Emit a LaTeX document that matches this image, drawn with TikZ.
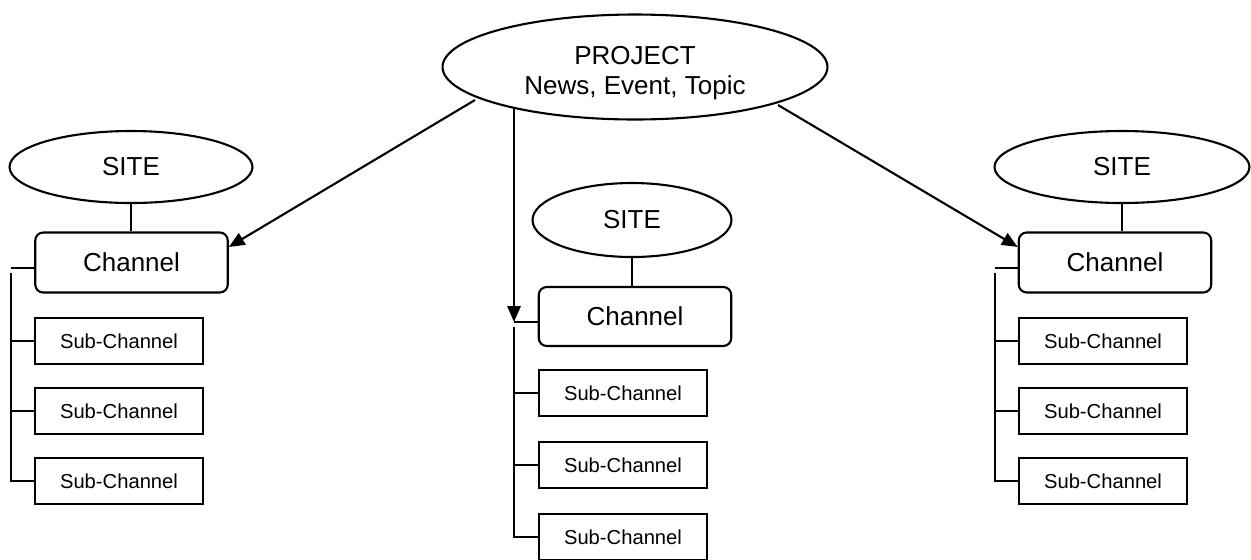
\documentclass[tikz,border=0pt]{standalone}
\usepackage{fontspec}
\setmainfont{Liberation Sans}
\usepackage{tikz}
\usetikzlibrary{positioning,calc,arrows.meta,shapes.geometric}

\begin{document}
\begin{tikzpicture}[
      x=0.02cm, y=-0.02cm,
      line width=1.2pt,
      bubble/.style = {ellipse, draw, inner sep=0pt,
        font=\fontsize{14.8}{17}\selectfont, align=center},
      chan/.style = {rectangle, draw, rounded corners=4.5pt,
        minimum width=3.85cm, minimum height=1.2cm, inner sep=0pt,
        font=\fontsize{14.8}{17}\selectfont},
      sub/.style = {rectangle, draw, minimum width=3.36cm,
        minimum height=0.92cm, inner sep=0pt,
        font=\fontsize{11.5}{13}\selectfont},
      arrow/.style = {-{Triangle[length=9pt,width=7.5pt]}}
    ]
    \useasboundingbox (0,0) rectangle (1251,559);
    % project
    \node (proj) [bubble, minimum width=7.7cm, minimum height=2.1cm]
      at (635,67) {\rule{0pt}{17.4pt}PROJECT\\News, Event, Topic};
    % left column
    \node (siteL) [bubble, minimum width=4.86cm, minimum height=1.44cm]
      at (131,167) {SITE};
    \node (chanL) [chan] at (131.5,262.5) {Channel};
    \node (subL1) [sub] at (119,341) {Sub-Channel};
    \node (subL2) [sub] at (119,411) {Sub-Channel};
    \node (subL3) [sub] at (119,481) {Sub-Channel};
    % middle column
    \node (siteM) [bubble, minimum width=3.98cm, minimum height=1.48cm]
      at (632,220) {SITE};
    \node (chanM) [chan, minimum height=1.18cm] at (635,316.5) {Channel};
    \node (subM1) [sub] at (623,393) {Sub-Channel};
    \node (subM2) [sub] at (623,465) {Sub-Channel};
    \node (subM3) [sub] at (623,537) {Sub-Channel};
    % right column
    \node (siteR) [bubble, minimum width=5.1cm, minimum height=1.44cm]
      at (1122,167) {SITE};
    \node (chanR) [chan] at (1115,262.5) {Channel};
    \node (subR1) [sub] at (1103,341) {Sub-Channel};
    \node (subR2) [sub] at (1103,411) {Sub-Channel};
    \node (subR3) [sub] at (1103,481) {Sub-Channel};
    % spine ends
    \coordinate (stubL) at (11,268);
    \coordinate (topL) at (11,273);
    \coordinate (stubM) at (514,322);
    \coordinate (topM) at (514,327);
    \coordinate (stubR) at (995,268);
    \coordinate (topR) at (995,273);
    % project arrows
    \draw [arrow] ($(proj.center)+(-160,33)$) -- ($(chanL.north east)!0.25!(chanL.south east)$);
    \draw [arrow] ($(proj.center)+(-121,40)$) -- (stubM);
    \draw [arrow] ($(proj.center)+(143,38)$) -- ($(chanR.north west)!0.25!(chanR.south west)$);
    % site to channel
    \draw (siteL.south) -- (siteL.south |- chanL.north);
    \draw (siteM.south) -- (siteM.south |- chanM.north);
    \draw (siteR.south) -- (siteR.south |- chanR.north);
    % channel stubs
    \draw (chanL.west |- stubL) -- (stubL);
    \draw (chanM.west |- stubM) -- (stubM);
    \draw (chanR.west |- stubR) -- (stubR);
    % spines
    \draw (topL) |- (subL3.west);
    \draw (topL |- subL1) -- (subL1.west);
    \draw (topL |- subL2) -- (subL2.west);
    \draw (topM) |- (subM3.west);
    \draw (topM |- subM1) -- (subM1.west);
    \draw (topM |- subM2) -- (subM2.west);
    \draw (topR) |- (subR3.west);
    \draw (topR |- subR1) -- (subR1.west);
    \draw (topR |- subR2) -- (subR2.west);
  \end{tikzpicture}
\end{document}
